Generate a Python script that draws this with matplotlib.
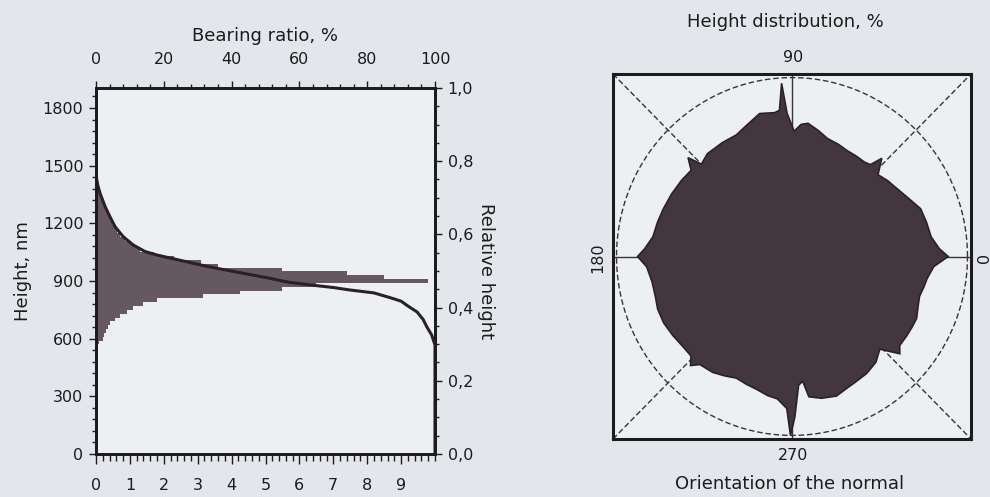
import numpy as np
import matplotlib
matplotlib.use('Agg')
import matplotlib.pyplot as plt
from matplotlib.ticker import MultipleLocator, FuncFormatter

# height histogram: bin centre (nm) and share of points (%)
hist_heights = [560, 580, 600, 620, 640, 660, 680, 700, 720, 740, 760, 780,
                800, 820, 840, 860, 880, 900, 920, 940, 960, 980, 1000, 1020,
                1040, 1060, 1080, 1100, 1120, 1140, 1160, 1180, 1200, 1220,
                1240, 1260, 1280, 1300, 1320, 1340, 1360, 1380, 1400, 1420, 1440]
hist_share = [0.05, 0.1, 0.2, 0.25, 0.3, 0.35, 0.42, 0.55, 0.72, 0.9, 1.1, 1.4,
              1.8, 3.16, 4.25, 5.5, 6.5, 9.8, 8.5, 7.4, 5.5, 3.6, 3.1, 2.3,
              1.7, 1.3, 1.15, 1.0, 0.85, 0.72, 0.62, 0.55, 0.48, 0.42,
              0.38, 0.33, 0.28, 0.24, 0.2, 0.16, 0.13, 0.1, 0.08, 0.06, 0.04]

# bearing (Abbott) curve
bearing_ratio = [0, 0.5, 1.2, 2.7, 4.1, 5.6, 8, 11, 14.5, 18, 23, 28, 33, 38,
                 45, 51, 57, 64, 70, 75, 82, 87, 90, 92, 94.7, 96.5, 97.6,
                 99, 100, 100]
bearing_height = [1450, 1400, 1356, 1287, 1235, 1183, 1131, 1087, 1053, 1035,
                  1015, 995, 975, 958, 935, 915, 893, 878, 866, 853, 838, 812,
                  795, 770, 739, 700, 661, 620, 567, 0]

height_max = 1904

# orientation of the normal: angle (deg) and relative radius
rose_angle = [0, 3, 8, 14, 20, 26, 32, 38, 43, 47, 49, 52, 57, 62, 67, 73, 78,
              83, 86, 89, 92, 93.5, 95, 97, 103, 109, 115, 122, 130, 135, 137,
              140, 146, 153, 160, 166, 172, 177, 180, 184, 190, 196, 201, 207,
              213, 219, 224, 226.5, 229, 235, 240, 245, 250, 255, 260, 264,
              268, 269.5, 271, 273, 275, 277, 282, 288, 293, 297, 303, 309,
              314, 318.5, 321, 326, 330, 334, 339, 343, 347, 351, 356]
rose_radius = [0.89, 0.84, 0.80, 0.79, 0.78, 0.74, 0.71, 0.69, 0.67, 0.75, 0.68,
               0.67, 0.67, 0.67, 0.68, 0.69, 0.72, 0.75, 0.74, 0.70, 0.80, 0.97,
               0.82, 0.81, 0.82, 0.78, 0.75, 0.75, 0.75, 0.73, 0.81, 0.75, 0.76,
               0.77, 0.78, 0.79, 0.80, 0.84, 0.88, 0.83, 0.81, 0.81, 0.82, 0.82,
               0.81, 0.80, 0.80, 0.84, 0.80, 0.79, 0.77, 0.75, 0.76, 0.77, 0.79,
               0.80, 0.85, 1.0, 0.90, 0.72, 0.70, 0.79, 0.81, 0.82, 0.80, 0.79,
               0.78, 0.76, 0.72, 0.82, 0.79, 0.79, 0.79, 0.79, 0.77, 0.76, 0.77,
               0.78, 0.81]

page = '#e3e7ec'
inner = '#edf0f3'
ink = '#1e1a1d'
fill_dark = '#43363f'
hist_col = '#66585f'

W, H = 990, 497
fig = plt.figure(figsize=(9.9, 4.97), dpi=100, facecolor=page)


def fx(px):
    return px / W


def fy(py):
    return 1 - py / H


# ---- left panel: histogram + bearing curve
ax = fig.add_axes([fx(96), fy(454), fx(435 - 96), (454 - 88) / H])
ax.set_facecolor(inner)
ax.barh(hist_heights, hist_share, height=20, color=hist_col, linewidth=0)
ax.set_xlim(0, 10)
ax.set_ylim(0, height_max)
ax.set_xticks(range(10))
ax.xaxis.set_minor_locator(MultipleLocator(0.2))
ax.set_yticks(range(0, 1801, 300))
ax.yaxis.set_minor_locator(MultipleLocator(60))
ax.tick_params(which='major', direction='out', length=5, width=1,
               labelsize=11.5, colors=ink)
ax.tick_params(which='minor', direction='out', length=3, width=1, colors=ink)
ax.tick_params(axis='x', which='major', pad=10, length=7)
ax.tick_params(axis='x', which='minor', length=5)
ax.tick_params(axis='y', pad=4)
ax.set_ylabel('Height, nm', fontsize=13, color=ink, labelpad=8)

axt = ax.twiny()
axt.plot(bearing_ratio, bearing_height, color='#2a2126', lw=2.2)
axt.set_xlim(0, 100)
axt.set_xticks(range(0, 101, 20))
axt.xaxis.set_minor_locator(MultipleLocator(4))
axt.tick_params(which='major', direction='out', length=5, width=1,
                labelsize=11.5, colors=ink, pad=10)
axt.tick_params(which='minor', direction='out', length=3, width=1, colors=ink)
axt.set_xlabel('Bearing ratio, %', fontsize=13, color=ink, labelpad=8)

axr = ax.secondary_yaxis('right', functions=(lambda h: h / height_max,
                                              lambda r: r * height_max))
axr.set_yticks([0, 0.2, 0.4, 0.6, 0.8, 1.0])
axr.yaxis.set_minor_locator(MultipleLocator(0.05))
axr.yaxis.set_major_formatter(FuncFormatter(lambda v, p: f'{v:.1f}'.replace('.', ',')))
axr.tick_params(which='major', direction='out', length=5, width=1,
                labelsize=11.5, colors=ink, pad=4)
axr.tick_params(which='minor', direction='out', length=3, width=1, colors=ink)
axr.set_ylabel('Relative height', fontsize=13, color=ink, rotation=270,
               labelpad=16)

for a in (ax, axt):
    for s in a.spines.values():
        s.set_linewidth(2)
        s.set_color(ink)
axr.spines['right'].set_linewidth(2)
axr.spines['right'].set_color(ink)

# ---- right panel: rose of normal orientations
bx = fig.add_axes([fx(613), fy(439), fx(971 - 613), (439 - 74) / H])
bx.set_facecolor(inner)
lim = 1.02
bx.set_xlim(-lim, lim)
bx.set_ylim(-lim, lim)
bx.set_xticks([])
bx.set_yticks([])
for s in bx.spines.values():
    s.set_linewidth(2.2)
    s.set_color(ink)

t = np.linspace(0, 2 * np.pi, 361)
bx.plot(np.cos(t), np.sin(t), color='#3a3338', lw=1, ls=(0, (4, 2)), zorder=1)
bx.plot([0, 1], [0, 1], transform=bx.transAxes, color='#3a3338', lw=1,
        ls=(0, (4, 2)), zorder=1)
bx.plot([0, 1], [1, 0], transform=bx.transAxes, color='#3a3338', lw=1,
        ls=(0, (4, 2)), zorder=1)
bx.axhline(0, color='#3a3338', lw=1, zorder=1)
bx.axvline(0, color='#3a3338', lw=1, zorder=1)

ang = np.radians(rose_angle)
rad = np.array(rose_radius)
bx.fill(rad * np.cos(ang), rad * np.sin(ang), facecolor=fill_dark,
        edgecolor='#2a2126', lw=1.2, zorder=2)

fig.text(fx(785), fy(22), 'Height distribution, %', fontsize=13, color=ink,
         ha='center', va='center')
fig.text(fx(793), fy(57), '90', fontsize=11.5, color=ink, ha='center', va='center')
fig.text(fx(793), fy(456), '270', fontsize=11.5, color=ink, ha='center', va='center')
fig.text(fx(598), fy(258), '180', fontsize=11.5, color=ink, rotation=90,
         ha='center', va='center')
fig.text(fx(984), fy(258), '0', fontsize=11.5, color=ink, rotation=90,
         ha='center', va='center')
fig.text(fx(790), fy(484), 'Orientation of the normal', fontsize=13, color=ink,
         ha='center', va='center')

fig.savefig('out.png', dpi=100, facecolor=page)
